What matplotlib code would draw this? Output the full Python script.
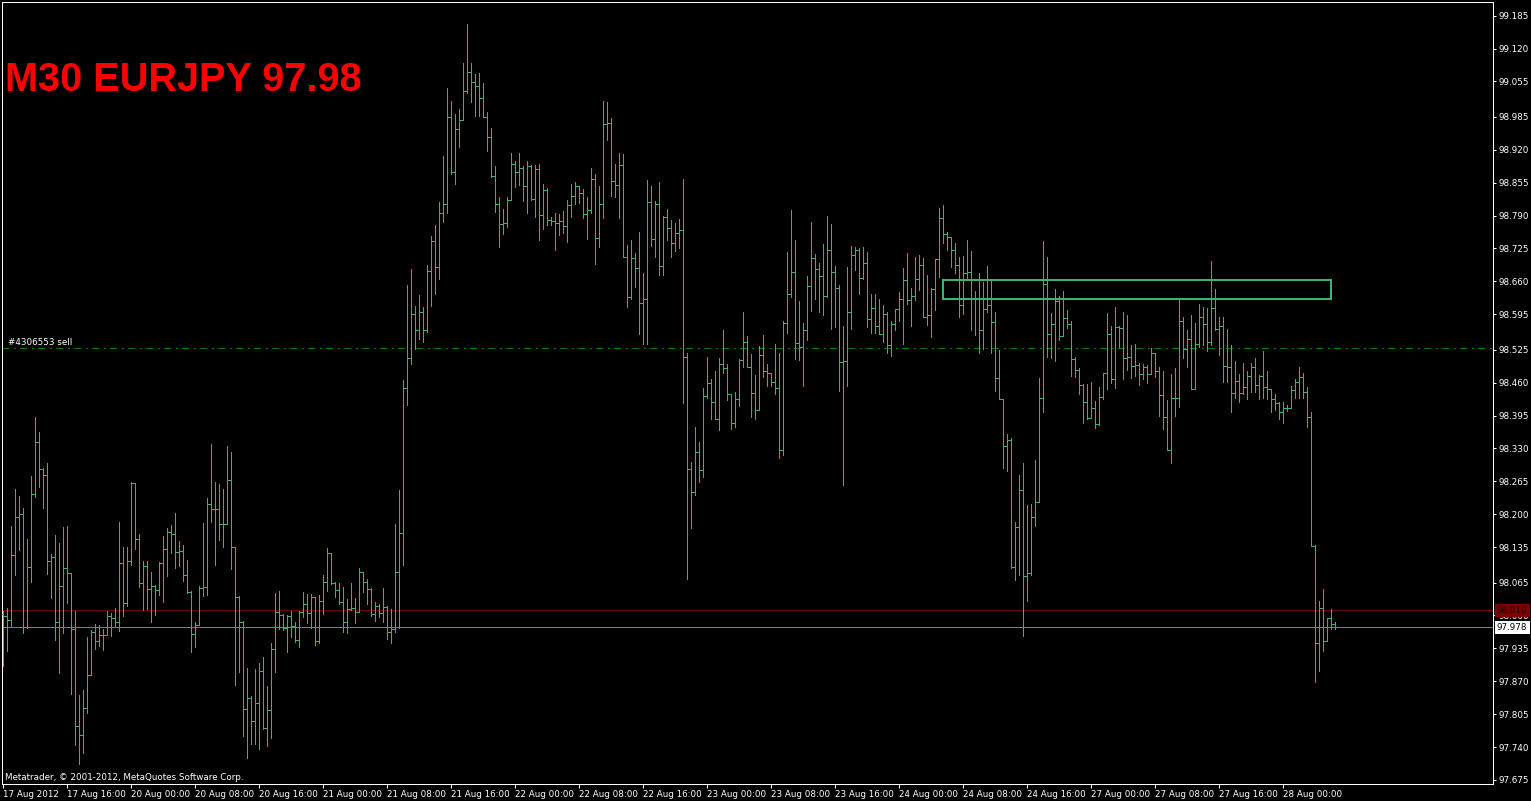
import matplotlib
matplotlib.use("Agg")
import matplotlib.pyplot as plt
from matplotlib.collections import LineCollection
from matplotlib.patches import Rectangle

# ---------------- data (EURJPY, M30 bars) ----------------
opens = [
    98.003, 97.998, 97.992, 98.119, 98.194, 98.200, 97.978, 98.096, 98.239, 98.342,
    98.289, 98.277, 98.108, 98.116, 97.987, 98.058, 98.094, 98.083, 97.974, 97.782,
    97.763, 97.818, 97.882, 97.967, 97.950, 97.961, 97.961, 97.999, 97.995, 97.987,
    98.103, 98.025, 98.108, 98.262, 98.152, 98.064, 98.098, 98.053, 98.058, 98.050,
    98.104, 98.132, 98.165, 98.160, 98.125, 98.127, 98.079, 98.046, 97.963, 97.981,
    98.055, 98.056, 98.220, 98.210, 98.210, 98.181, 98.181, 98.268, 98.135, 98.037,
    97.987, 97.816, 97.837, 97.792, 97.827, 97.890, 97.778, 97.813, 97.933, 98.007,
    98.000, 97.975, 97.998, 97.979, 97.952, 98.006, 98.022, 98.004, 98.037, 97.950,
    98.028, 98.067, 98.123, 98.064, 98.050, 98.027, 97.988, 98.013, 98.015, 98.006,
    98.085, 98.067, 98.052, 98.003, 98.018, 98.004, 98.017, 97.968, 97.973, 98.086,
    98.163, 98.449, 98.508, 98.596, 98.564, 98.599, 98.564, 98.681, 98.740, 98.689,
    98.796, 98.812, 98.984, 98.877, 98.962, 98.979, 99.036, 99.074, 99.053, 99.047,
    99.022, 98.985, 98.946, 98.868, 98.812, 98.773, 98.775, 98.821, 98.892, 98.877,
    98.885, 98.849, 98.888, 98.822, 98.883, 98.791, 98.841, 98.781, 98.779, 98.775,
    98.779, 98.770, 98.811, 98.829, 98.849, 98.834, 98.793, 98.802, 98.862, 98.746,
    98.812, 98.971, 98.972, 98.859, 98.850, 98.889, 98.708, 98.630, 98.706, 98.686,
    98.618, 98.625, 98.816, 98.744, 98.812, 98.690, 98.788, 98.766, 98.735, 98.756,
    98.762, 98.510, 98.290, 98.243, 98.322, 98.287, 98.434, 98.459, 98.422, 98.389,
    98.497, 98.488, 98.437, 98.380, 98.428, 98.505, 98.540, 98.491, 98.440, 98.406,
    98.515, 98.482, 98.480, 98.462, 98.449, 98.327, 98.578, 98.635, 98.678, 98.539,
    98.531, 98.564, 98.651, 98.706, 98.684, 98.671, 98.632, 98.723, 98.679, 98.647,
    98.500, 98.502, 98.600, 98.712, 98.722, 98.666, 98.697, 98.586, 98.607, 98.571,
    98.557, 98.596, 98.534, 98.575, 98.605, 98.625, 98.662, 98.623, 98.632, 98.664,
    98.692, 98.590, 98.594, 98.644, 98.704, 98.785, 98.753, 98.748, 98.722, 98.692,
    98.613, 98.677, 98.678, 98.628, 98.626, 98.563, 98.605, 98.613, 98.580, 98.470,
    98.427, 98.335, 98.347, 98.096, 98.175, 98.248, 98.077, 98.084, 98.195, 98.225,
    98.429, 98.655, 98.557, 98.575, 98.621, 98.552, 98.587, 98.575, 98.507, 98.485,
    98.455, 98.421, 98.391, 98.409, 98.378, 98.431, 98.480, 98.556, 98.467, 98.569,
    98.567, 98.509, 98.511, 98.493, 98.495, 98.477, 98.490, 98.477, 98.519, 98.482,
    98.435, 98.393, 98.327, 98.429, 98.430, 98.582, 98.527, 98.547, 98.447, 98.536,
    98.589, 98.575, 98.541, 98.607, 98.566, 98.571, 98.493, 98.490, 98.439, 98.463,
    98.440, 98.452, 98.473, 98.491, 98.455, 98.474, 98.452, 98.447, 98.427, 98.419,
    98.401, 98.409, 98.409, 98.445, 98.462, 98.472, 98.442, 98.393, 98.138, 97.945,
    98.014, 97.950, 97.994, 97.984,
]
highs = [
    98.008, 98.014, 98.177, 98.250, 98.236, 98.212, 98.151, 98.276, 98.393, 98.363,
    98.291, 98.302, 98.121, 98.159, 98.144, 98.174, 98.177, 98.083, 98.009, 97.843,
    97.853, 97.957, 97.971, 97.983, 97.981, 97.973, 98.008, 98.005, 98.015, 98.185,
    98.135, 98.136, 98.264, 98.205, 98.161, 98.107, 98.108, 98.086, 98.060, 98.105,
    98.156, 98.173, 98.179, 98.202, 98.148, 98.139, 98.110, 98.048, 97.987, 98.058,
    98.183, 98.233, 98.339, 98.264, 98.260, 98.250, 98.335, 98.322, 98.136, 98.038,
    97.990, 97.897, 97.841, 97.894, 97.907, 97.918, 97.861, 97.945, 98.044, 98.048,
    98.002, 98.000, 98.009, 97.987, 98.009, 98.046, 98.042, 98.042, 98.034, 98.040,
    98.080, 98.133, 98.124, 98.066, 98.064, 98.056, 98.033, 98.064, 98.034, 98.093,
    98.086, 98.073, 98.054, 98.027, 98.022, 98.054, 98.019, 98.013, 98.180, 98.248,
    98.466, 98.653, 98.684, 98.612, 98.634, 98.609, 98.692, 98.750, 98.771, 98.816,
    98.908, 99.042, 99.016, 98.991, 99.001, 99.092, 99.169, 99.092, 99.069, 99.071,
    99.051, 98.995, 98.964, 98.887, 98.827, 98.804, 98.827, 98.914, 98.898, 98.914,
    98.888, 98.897, 98.890, 98.889, 98.891, 98.852, 98.844, 98.788, 98.796, 98.793,
    98.800, 98.821, 98.852, 98.856, 98.849, 98.842, 98.827, 98.885, 98.872, 98.849,
    99.016, 99.015, 98.983, 98.891, 98.913, 98.911, 98.732, 98.742, 98.717, 98.758,
    98.676, 98.860, 98.849, 98.818, 98.857, 98.790, 98.804, 98.781, 98.776, 98.784,
    98.862, 98.518, 98.303, 98.372, 98.343, 98.450, 98.511, 98.467, 98.483, 98.509,
    98.564, 98.497, 98.436, 98.441, 98.506, 98.600, 98.552, 98.517, 98.475, 98.532,
    98.554, 98.497, 98.477, 98.536, 98.519, 98.582, 98.718, 98.801, 98.742, 98.622,
    98.578, 98.671, 98.777, 98.714, 98.696, 98.734, 98.789, 98.773, 98.690, 98.652,
    98.572, 98.689, 98.729, 98.728, 98.725, 98.727, 98.719, 98.635, 98.635, 98.625,
    98.613, 98.600, 98.582, 98.606, 98.639, 98.686, 98.716, 98.646, 98.708, 98.712,
    98.706, 98.673, 98.646, 98.705, 98.805, 98.811, 98.757, 98.746, 98.735, 98.708,
    98.710, 98.742, 98.720, 98.642, 98.677, 98.659, 98.690, 98.662, 98.600, 98.524,
    98.427, 98.358, 98.350, 98.185, 98.277, 98.302, 98.218, 98.221, 98.307, 98.469,
    98.740, 98.708, 98.597, 98.644, 98.631, 98.642, 98.603, 98.582, 98.510, 98.488,
    98.457, 98.457, 98.462, 98.424, 98.451, 98.480, 98.598, 98.571, 98.609, 98.571,
    98.599, 98.594, 98.534, 98.537, 98.499, 98.496, 98.495, 98.528, 98.518, 98.490,
    98.482, 98.426, 98.478, 98.488, 98.625, 98.589, 98.564, 98.594, 98.577, 98.615,
    98.609, 98.607, 98.700, 98.645, 98.589, 98.590, 98.566, 98.534, 98.503, 98.478,
    98.499, 98.482, 98.499, 98.509, 98.476, 98.522, 98.483, 98.447, 98.437, 98.422,
    98.422, 98.416, 98.453, 98.467, 98.490, 98.480, 98.452, 98.402, 98.140, 98.028,
    98.052, 97.995, 98.013, 97.988,
]
lows = [
    97.900, 97.930, 97.978, 98.079, 98.129, 97.965, 97.975, 98.066, 98.235, 98.253,
    98.213, 98.081, 98.035, 97.952, 97.886, 97.966, 98.025, 97.845, 97.745, 97.706,
    97.729, 97.808, 97.882, 97.933, 97.940, 97.931, 97.961, 97.960, 97.977, 97.970,
    97.998, 98.019, 98.100, 98.131, 98.057, 98.010, 98.012, 97.988, 98.000, 98.040,
    98.027, 98.077, 98.123, 98.094, 98.098, 98.069, 98.044, 97.928, 97.938, 97.981,
    98.039, 98.040, 98.185, 98.100, 98.149, 98.135, 98.181, 98.092, 97.863, 97.889,
    97.762, 97.718, 97.746, 97.747, 97.737, 97.776, 97.743, 97.757, 97.889, 97.973,
    97.972, 97.928, 97.958, 97.948, 97.938, 97.996, 97.986, 97.975, 97.942, 97.945,
    98.003, 98.048, 98.062, 98.036, 98.023, 97.967, 97.965, 98.010, 97.986, 98.011,
    98.047, 98.023, 97.998, 97.990, 97.996, 97.987, 97.953, 97.945, 97.968, 97.975,
    98.100, 98.416, 98.497, 98.526, 98.547, 98.541, 98.561, 98.611, 98.635, 98.665,
    98.777, 98.796, 98.872, 98.852, 98.926, 98.984, 99.033, 99.015, 98.986, 98.986,
    98.984, 98.917, 98.866, 98.798, 98.727, 98.753, 98.768, 98.821, 98.847, 98.850,
    98.818, 98.796, 98.821, 98.788, 98.742, 98.764, 98.771, 98.771, 98.723, 98.751,
    98.755, 98.738, 98.788, 98.812, 98.814, 98.785, 98.744, 98.795, 98.694, 98.727,
    98.786, 98.939, 98.829, 98.827, 98.785, 98.708, 98.610, 98.626, 98.648, 98.556,
    98.536, 98.536, 98.730, 98.709, 98.673, 98.672, 98.742, 98.709, 98.721, 98.725,
    98.420, 98.073, 98.173, 98.237, 98.264, 98.274, 98.430, 98.389, 98.390, 98.367,
    98.480, 98.426, 98.368, 98.373, 98.414, 98.491, 98.490, 98.393, 98.389, 98.407,
    98.472, 98.454, 98.453, 98.438, 98.312, 98.317, 98.559, 98.630, 98.507, 98.505,
    98.454, 98.544, 98.601, 98.626, 98.600, 98.594, 98.630, 98.565, 98.569, 98.443,
    98.258, 98.454, 98.565, 98.683, 98.635, 98.665, 98.570, 98.559, 98.559, 98.556,
    98.541, 98.519, 98.513, 98.564, 98.581, 98.536, 98.615, 98.572, 98.623, 98.643,
    98.589, 98.574, 98.551, 98.603, 98.669, 98.735, 98.723, 98.689, 98.676, 98.589,
    98.596, 98.665, 98.563, 98.554, 98.519, 98.526, 98.600, 98.519, 98.443, 98.427,
    98.292, 98.286, 98.094, 98.071, 98.080, 97.959, 98.028, 98.080, 98.177, 98.225,
    98.401, 98.511, 98.509, 98.503, 98.545, 98.554, 98.567, 98.474, 98.472, 98.437,
    98.380, 98.389, 98.393, 98.370, 98.376, 98.427, 98.448, 98.460, 98.449, 98.531,
    98.468, 98.484, 98.470, 98.474, 98.455, 98.468, 98.460, 98.477, 98.472, 98.395,
    98.368, 98.327, 98.302, 98.395, 98.411, 98.508, 98.490, 98.447, 98.447, 98.531,
    98.534, 98.523, 98.534, 98.563, 98.514, 98.462, 98.461, 98.401, 98.429, 98.422,
    98.437, 98.427, 98.441, 98.442, 98.428, 98.430, 98.428, 98.401, 98.406, 98.388,
    98.381, 98.403, 98.409, 98.429, 98.429, 98.430, 98.372, 98.138, 97.869, 97.890,
    97.930, 97.949, 97.974, 97.974,
]
closes = [
    97.998, 97.992, 98.119, 98.194, 98.200, 97.978, 98.096, 98.239, 98.342, 98.289,
    98.277, 98.108, 98.116, 97.987, 98.058, 98.094, 98.083, 97.974, 97.782, 97.763,
    97.818, 97.882, 97.967, 97.950, 97.961, 97.961, 97.999, 97.995, 97.987, 98.103,
    98.025, 98.108, 98.262, 98.152, 98.064, 98.098, 98.053, 98.058, 98.050, 98.104,
    98.132, 98.165, 98.160, 98.125, 98.127, 98.079, 98.046, 97.963, 97.981, 98.055,
    98.056, 98.220, 98.210, 98.210, 98.181, 98.181, 98.268, 98.135, 98.037, 97.987,
    97.816, 97.837, 97.792, 97.827, 97.890, 97.778, 97.813, 97.933, 98.007, 98.000,
    97.975, 97.998, 97.979, 97.952, 98.006, 98.022, 98.004, 98.037, 97.950, 98.028,
    98.067, 98.123, 98.064, 98.050, 98.027, 97.988, 98.013, 98.015, 98.006, 98.085,
    98.067, 98.052, 98.003, 98.018, 98.004, 98.017, 97.968, 97.973, 98.086, 98.163,
    98.449, 98.508, 98.596, 98.564, 98.599, 98.564, 98.681, 98.740, 98.689, 98.796,
    98.812, 98.984, 98.877, 98.962, 98.979, 99.036, 99.074, 99.053, 99.047, 99.022,
    98.985, 98.946, 98.868, 98.812, 98.773, 98.775, 98.821, 98.892, 98.877, 98.885,
    98.849, 98.888, 98.822, 98.883, 98.791, 98.841, 98.781, 98.779, 98.775, 98.779,
    98.770, 98.811, 98.829, 98.849, 98.834, 98.793, 98.802, 98.862, 98.746, 98.812,
    98.971, 98.972, 98.859, 98.850, 98.889, 98.708, 98.630, 98.706, 98.686, 98.618,
    98.625, 98.816, 98.744, 98.812, 98.690, 98.788, 98.766, 98.735, 98.756, 98.762,
    98.510, 98.290, 98.243, 98.322, 98.287, 98.434, 98.459, 98.422, 98.389, 98.497,
    98.488, 98.437, 98.380, 98.428, 98.505, 98.540, 98.491, 98.440, 98.406, 98.515,
    98.482, 98.480, 98.462, 98.449, 98.327, 98.578, 98.635, 98.678, 98.539, 98.531,
    98.564, 98.651, 98.706, 98.684, 98.671, 98.632, 98.723, 98.679, 98.647, 98.500,
    98.502, 98.600, 98.712, 98.722, 98.666, 98.697, 98.586, 98.607, 98.571, 98.557,
    98.596, 98.534, 98.575, 98.605, 98.625, 98.662, 98.623, 98.632, 98.664, 98.692,
    98.590, 98.594, 98.644, 98.704, 98.785, 98.753, 98.748, 98.722, 98.692, 98.613,
    98.677, 98.678, 98.628, 98.626, 98.563, 98.605, 98.613, 98.580, 98.470, 98.427,
    98.335, 98.347, 98.096, 98.175, 98.248, 98.077, 98.084, 98.195, 98.225, 98.429,
    98.655, 98.557, 98.575, 98.621, 98.552, 98.587, 98.575, 98.507, 98.485, 98.455,
    98.421, 98.391, 98.409, 98.378, 98.431, 98.480, 98.556, 98.467, 98.569, 98.567,
    98.509, 98.511, 98.493, 98.495, 98.477, 98.490, 98.477, 98.519, 98.482, 98.435,
    98.393, 98.327, 98.429, 98.430, 98.582, 98.527, 98.547, 98.447, 98.536, 98.589,
    98.575, 98.541, 98.607, 98.566, 98.571, 98.493, 98.490, 98.439, 98.463, 98.440,
    98.452, 98.473, 98.491, 98.455, 98.474, 98.452, 98.447, 98.427, 98.419, 98.401,
    98.409, 98.409, 98.445, 98.462, 98.472, 98.442, 98.393, 98.138, 97.945, 98.014,
    97.950, 97.994, 97.984, 97.978,
]

price_ticks = [99.185, 99.120, 99.055, 98.985, 98.920, 98.855, 98.790, 98.725,
               98.660, 98.595, 98.525, 98.460, 98.395, 98.330, 98.265, 98.200,
               98.135, 98.065, 98.000, 97.935, 97.870, 97.805, 97.740, 97.675]
time_labels = ["17 Aug 2012", "17 Aug 16:00", "20 Aug 00:00", "20 Aug 08:00",
               "20 Aug 16:00", "21 Aug 00:00", "21 Aug 08:00", "21 Aug 16:00",
               "22 Aug 00:00", "22 Aug 08:00", "22 Aug 16:00", "23 Aug 00:00",
               "23 Aug 08:00", "23 Aug 16:00", "24 Aug 00:00", "24 Aug 08:00",
               "24 Aug 16:00", "27 Aug 00:00", "27 Aug 08:00", "27 Aug 16:00",
               "28 Aug 00:00"]
bars_per_label = 16

order_price = 98.528     # "#4306553 sell"
ask_price = 98.010
bid_price = 97.978
zone_start_bar, zone_end_bar = 234.8, 331.9
zone_low, zone_high = 98.625, 98.663

title = "M30 EURJPY 97.98"

# ---------------- style ----------------
BAR = "#3CB371"
W, H = 1531, 801
PX = 72 / 100  # one pixel in points

fig = plt.figure(figsize=(W / 100, H / 100), dpi=100, facecolor="black")
ax = fig.add_axes([2 / W, 1 - 784 / H, 1491 / W, 782 / H], facecolor="black")

segs = []
for i in range(len(closes)):
    lo = min(lows[i], opens[i], closes[i])
    hi = max(highs[i], opens[i], closes[i])
    segs.append([(i, lo), (i, hi)])
    segs.append([(i - 0.3, opens[i]), (i, opens[i])])
    segs.append([(i, closes[i]), (i + 0.3, closes[i])])
lc = LineCollection(segs, colors=BAR, linewidths=PX, antialiaseds=False, zorder=3)
ax.add_collection(lc)

ax.axhline(order_price, color="#008000", lw=PX,
           dashes=(9 * PX, 7 * PX, 2 * PX, 6 * PX), antialiased=False, zorder=2)
ax.axhline(ask_price, color="#6E0000", lw=PX, antialiased=False, zorder=2)
ax.axhline(bid_price, color="#00D000", lw=PX, antialiased=False, zorder=2)

ax.add_patch(Rectangle((zone_start_bar, zone_low), zone_end_bar - zone_start_bar,
                       zone_high - zone_low, fill=False, edgecolor=BAR,
                       lw=2 * PX, antialiased=False, zorder=4))

ax.set_xlim(-0.333, 372.42)
ax.set_ylim(97.667, 99.212)

for s in ax.spines.values():
    s.set_color("white")
    s.set_linewidth(PX)

FONT = "DejaVu Sans"
ax.yaxis.tick_right()
ax.set_yticks(price_ticks)
ax.set_yticklabels([f"{v:.3f}" for v in price_ticks], fontsize=6.3,
                   color="white", family=FONT)
ax.set_xticks([j * bars_per_label for j in range(len(time_labels))])
ax.set_xticklabels(time_labels, fontsize=6.3, color="white", family=FONT, ha="left")
ax.tick_params(axis="y", colors="white", length=3 * PX, width=PX, pad=2)
ax.tick_params(axis="x", colors="white", length=4 * PX, width=PX, pad=1.5)

fig.text(5 / W, 1 - 91 / H, title, color="#FF0000", fontsize=28.6,
         fontweight="bold", family="Liberation Sans", va="baseline")
fig.text(8 / W, 1 - 345 / H, "#4306553 sell", color="white", fontsize=6.3,
         family=FONT, va="baseline")
fig.text(5 / W, 1 - 780 / H, "Metatrader, \u00a9 2001-2012, MetaQuotes Software Corp.",
         color="white", fontsize=6.3, family=FONT, va="baseline")

# price boxes on the axis (they cover the 98.000 label, as in the terminal)
for y0, y1, fc, tc, txt in [(604, 617, "#800000", "#200000", f"{ask_price:.3f}"),
                            (621, 634, "white", "black", f"{bid_price:.3f}")]:
    fig.patches.append(Rectangle((1495 / W, 1 - y1 / H), 35 / W, (y1 - y0) / H,
                                 transform=fig.transFigure, facecolor=fc,
                                 lw=0, zorder=5))
    fig.text(1512 / W, 1 - (y0 + y1) / 2 / H, txt, color=tc, fontsize=6.3,
             family=FONT, ha="center", va="center", zorder=6)

fig.savefig("out.png", dpi=100, facecolor="black")
